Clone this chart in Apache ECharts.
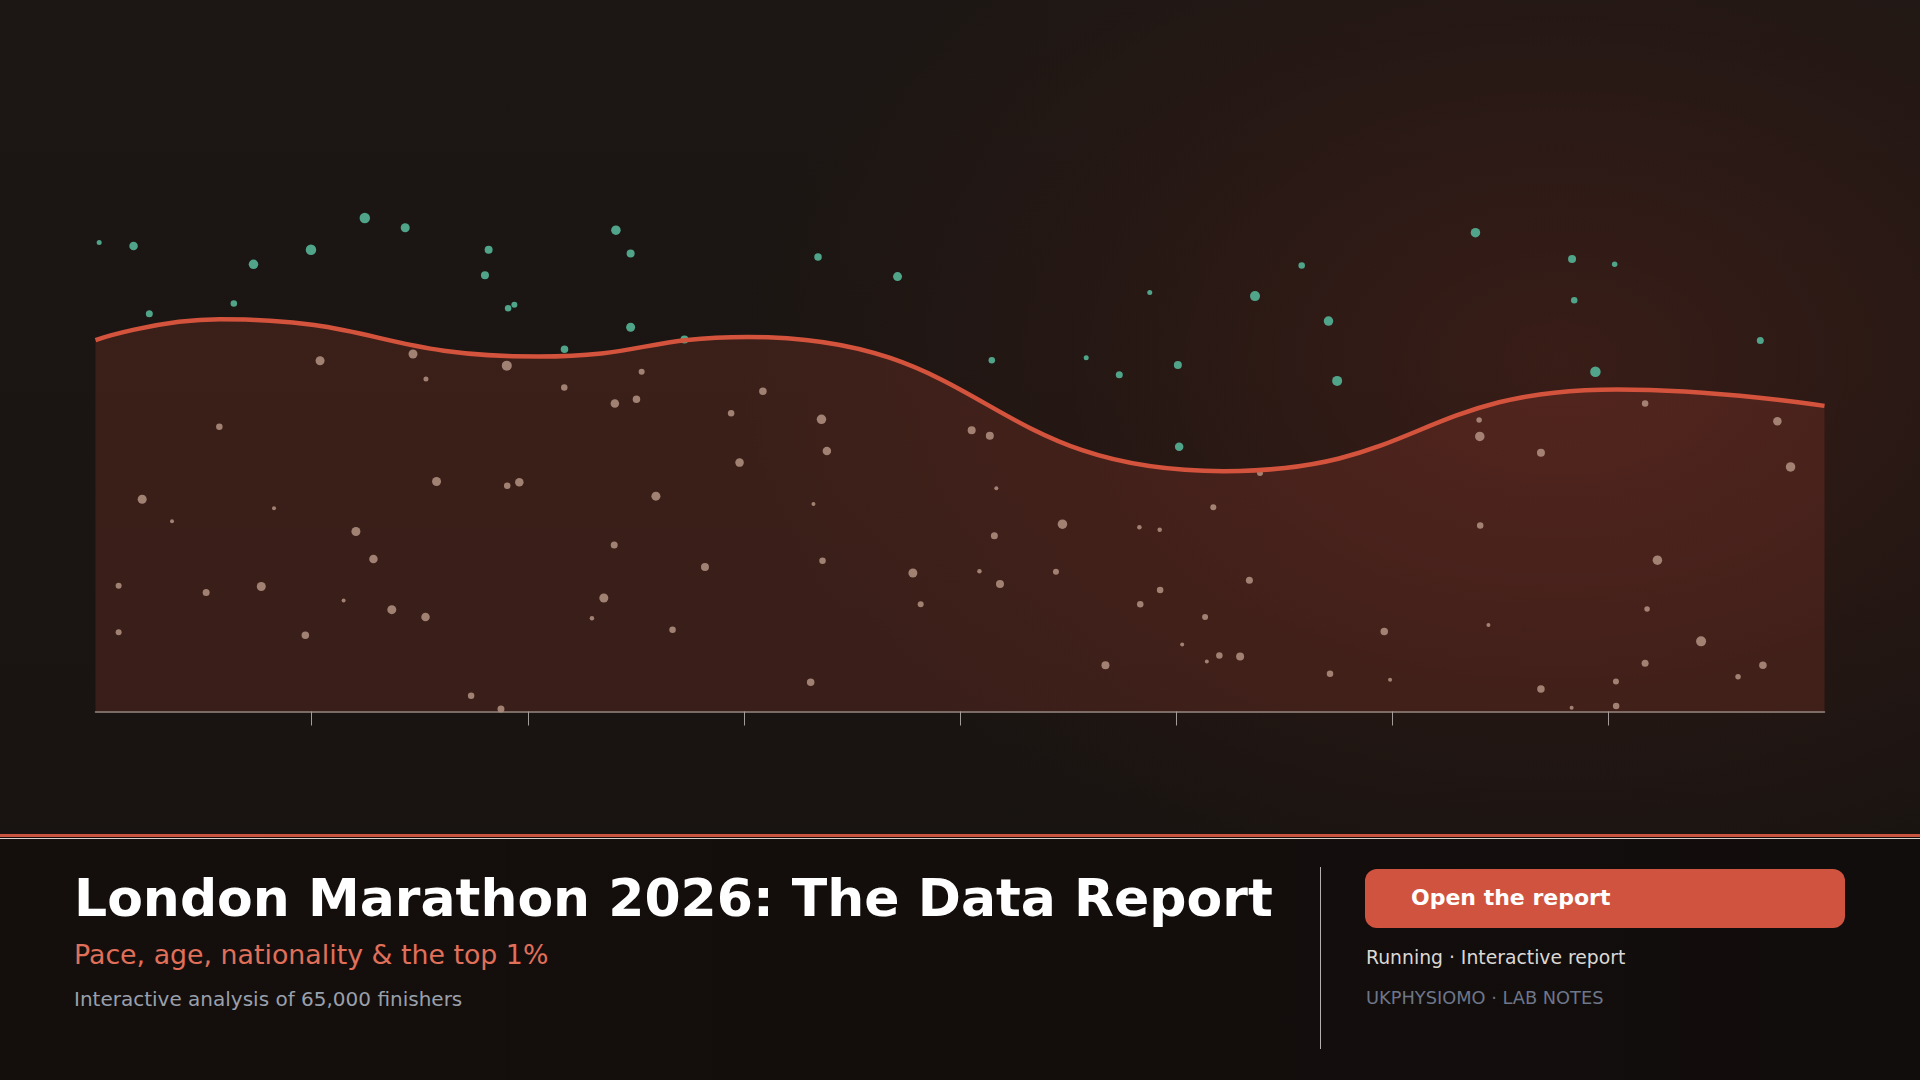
<!DOCTYPE html>
<html>
<head>
<meta charset="utf-8">
<script src="https://cdn.jsdelivr.net/npm/echarts@6/dist/echarts.min.js"></script>
<style>
  html, body { margin:0; padding:0; width:1920px; height:1080px; overflow:hidden; }
  body {
    position:relative;
    font-family:"DejaVu Sans", sans-serif;
    background:
      radial-gradient(ellipse 1050px 720px at 1560px 360px, rgba(80,34,27,0.56) 0%, rgba(62,28,22,0.3) 45%, rgba(40,22,18,0) 78%),
      linear-gradient(180deg, #1c1714 0%, #1a1512 45%, #171310 100%);
  }
  #chart { position:absolute; left:0; top:0; width:1920px; height:834px; }
  #footer { position:absolute; left:0; top:837px; width:1920px; height:243px; background:linear-gradient(90deg,#140e0c 0%,#130e0c 60%,#110d0c 100%); }
  #rule1 { position:absolute; left:0; top:834px; width:1920px; height:3px; background:#c9543f; }
  #rule2 { position:absolute; left:0; top:838px; width:1920px; height:1px; background:rgba(240,230,225,0.9); }
  .t { position:absolute; white-space:nowrap; line-height:1; }
  #title { left:74px; top:872px; font-size:52px; font-weight:bold; color:#ffffff; }
  #sub { left:74px; top:942px; font-size:26.8px; color:#e0705a; }
  #desc { left:74px; top:988.5px; font-size:20px; color:#9aa0ab; }
  #divider { position:absolute; left:1320px; top:867px; width:1px; height:182px; background:rgba(235,230,228,0.75); }
  #btn { position:absolute; left:1365px; top:869px; width:480px; height:59px; border-radius:12px; background:#d05340; }
  #btntext { left:1411px; top:887px; font-size:22px; font-weight:bold; color:#ffffff; }
  #meta1 { left:1366px; top:949px; font-size:18.8px; color:#dcd8d4; }
  #meta2 { left:1366px; top:989px; font-size:17.8px; color:#6e7689; }
</style>
</head>
<body>
<div id="chart"></div>
<div id="rule1"></div>
<div id="footer"></div>
<div id="rule2"></div>
<div class="t" id="title">London Marathon 2026: The Data Report</div>
<div class="t" id="sub">Pace, age, nationality &amp; the top 1%</div>
<div class="t" id="desc">Interactive analysis of 65,000 finishers</div>
<div id="divider"></div>
<div id="btn"></div>
<div class="t" id="btntext">Open the report</div>
<div class="t" id="meta1">Running · Interactive report</div>
<div class="t" id="meta2">UKPHYSIOMO · LAB NOTES</div>
<script>
// turning points of the smoothed pace curve (x, value)
const curveX = [0, 0.575, 2.05, 3.02, 5.22, 7.04, 8];
const curveY = [60.9, 64.3, 58.2, 61.4, 39.4, 52.8, 50.1];

// runners above the curve (x, y, size)
const topRunners = [
  [0.017,76.9,5],[0.176,76.3,8.5],[0.249,65.2,7],[0.640,66.9,6.5],[0.731,73.3,9.5],
  [0.997,75.7,10.5],[1.246,80.9,10.5],[1.433,79.3,9],[1.819,75.7,8],[1.802,71.5,8],
  [1.909,66.1,6.5],[1.938,66.7,6],[2.170,59.4,7.5],[2.408,78.9,9.5],[2.476,75.1,8],
  [2.476,63.0,9],[2.725,61.0,8],[3.343,74.5,7.5],[3.711,71.3,9],[4.147,57.6,6.5],
  [4.584,58.0,5],[4.737,55.2,7],[4.878,68.7,5],[5.008,56.8,8],[5.014,43.4,8.5],
  [5.365,68.1,10],[5.581,73.1,6.5],[5.705,64.0,9.5],[5.745,54.2,10],[6.385,78.5,9.5],
  [6.832,74.2,8],[6.842,67.4,6.5],[7.029,73.3,5.5],[6.940,55.7,10.5],[7.703,60.8,7]
];

// runners below the curve (x, y, size)
const fieldRunners = [
  [1.039,57.5,9],[1.469,58.6,9],[1.529,54.5,5],[1.903,56.7,10],[0.573,46.7,6.5],
  [0.216,34.8,9],[0.354,31.2,4],[0.826,33.3,4],[1.205,29.5,9],[1.286,25.0,8.5],
  [1.578,37.7,9],[1.905,37.0,6.5],[1.961,37.6,8.5],[0.107,20.6,6],[0.767,20.5,9],
  [0.107,13.0,6],[0.512,19.5,7],[0.971,12.5,7.5],[1.148,18.2,4],[1.371,16.7,9],
  [1.527,15.5,8.5],[1.738,2.6,6.5],[1.876,0.4,7],[2.403,50.5,8.5],[2.503,51.2,7.5],
  [2.593,35.3,9],[2.400,27.3,7],[2.352,18.6,9],[2.297,15.3,4.5],[3.088,52.5,7.5],
  [2.941,48.9,6.5],[3.359,47.9,9.5],[3.384,42.7,8.5],[2.980,40.8,8.5],[3.322,34.0,4],
  [2.820,23.7,8],[3.364,24.7,6.5],[2.670,13.4,6.5],[3.309,4.8,7.5],[4.054,46.1,8],
  [4.138,45.2,8],[4.168,36.6,4],[4.159,28.8,7],[3.782,22.7,9],[3.818,17.6,6],
  [4.090,23.0,4.5],[4.185,20.9,8],[4.474,30.7,9.5],[4.444,22.9,6],[4.673,7.6,8],
  [4.830,30.2,4.5],[4.924,29.8,4.5],[4.834,17.6,6.5],[4.926,19.9,6.5],[5.172,33.5,6],
  [5.134,15.5,6],[5.028,11.0,4],[5.200,9.2,6.5],[5.142,8.2,4],[5.388,39.1,6],
  [5.339,21.5,7],[5.296,9.0,8],[5.712,6.2,6.5],[5.963,13.1,7.5],[5.990,5.2,4],
  [6.402,47.8,5.5],[6.405,45.1,9.5],[6.688,42.4,8],[6.407,30.5,6.5],[6.445,14.2,4],
  [6.688,3.7,7.5],[6.830,0.6,4],[7.035,4.9,6],[7.036,0.9,6.5],[7.170,50.5,6.5],
  [7.227,24.8,9.5],[7.179,16.8,5.5],[7.170,7.9,7],[7.429,11.5,10],[7.600,5.7,5.5],
  [7.715,7.6,7.5],[7.782,47.6,8.5],[7.843,40.1,9.5],[2.527,55.7,6],[2.169,53.1,6.5]
];

const xTicks = [1, 2, 3, 4, 5, 6, 7];

const curve = curveX.map((x, i) => [x, curveY[i]]);

const chart = echarts.init(document.getElementById('chart'), null, { renderer: 'canvas' });
chart.setOption({
  backgroundColor: 'transparent',
  animation: false,
  grid: { left: 95.5, right: 95.5, top: 101.5, bottom: 122.5 },
  xAxis: {
    type: 'value', min: 0, max: 8, interval: 1,
    axisLine: { show: true, lineStyle: { color: '#9a8a84', width: 1.5 } },
    axisTick: { show: true, length: 14, customValues: xTicks, lineStyle: { color: '#a39c99', width: 1 } },
    axisLabel: { show: false },
    splitLine: { show: false }
  },
  yAxis: {
    type: 'value', min: 0, max: 100,
    show: false, splitLine: { show: false }
  },
  series: [
    {
      type: 'line', data: curve, smooth: 0.5, symbol: 'none', z: 1,
      lineStyle: { width: 0, opacity: 0 },
      areaStyle: { color: 'rgba(212,82,62,0.25)', origin: 'start' }
    },
    {
      type: 'scatter', data: fieldRunners, z: 2,
      symbolSize: v => v[2],
      itemStyle: { color: '#b09080', opacity: 0.88 }
    },
    {
      type: 'scatter', data: topRunners, z: 2,
      symbolSize: v => v[2],
      itemStyle: { color: '#52ac8f', opacity: 0.95 }
    },
    {
      type: 'line', data: curve, smooth: 0.5, symbol: 'none', z: 3,
      lineStyle: { color: '#d4533d', width: 4.5 }
    }
  ]
});
</script>
</body>
</html>
